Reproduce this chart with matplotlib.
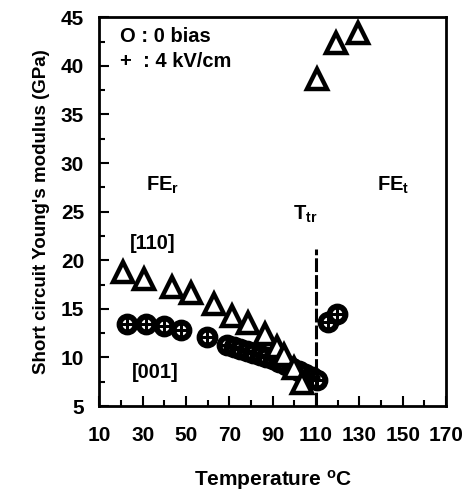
import matplotlib
matplotlib.use("Agg")
import matplotlib.pyplot as plt
from matplotlib.ticker import MultipleLocator

plt.rcParams["font.family"] = ["Liberation Sans", "DejaVu Sans"]
plt.rcParams["font.weight"] = "bold"
plt.rcParams["mathtext.fontset"] = "custom"
plt.rcParams["mathtext.rm"] = "Liberation Sans:bold"
plt.rcParams["mathtext.bf"] = "Liberation Sans:bold"
plt.rcParams["mathtext.it"] = "Liberation Sans:bold"

# [110] direction, triangles
tri_temp = [21.1, 30.6, 43.4, 52.2, 62.9, 71.3, 78.7, 86.4, 92.2, 95.4, 99.7, 103.4,
            110.3, 119.2, 129.5]
tri_mod = [18.75, 18.1, 17.3, 16.6, 15.5, 14.3, 13.5, 12.4, 11.1, 10.3, 8.95, 7.35,
           38.6, 42.4, 43.4]

# [001] direction, circles (0 bias) overlaid with + (4 kV/cm)
circ_temp = [22.6, 31.5, 39.8, 47.5, 59.5, 68.8, 72.0, 75.0, 78.0, 81.0, 84.0, 87.0,
             90.0, 93.0, 96.0, 99.0, 102.0, 105.0, 108.0, 110.5, 115.6, 119.5]
circ_mod = [13.4, 13.4, 13.2, 12.8, 12.1, 11.3, 11.1, 10.9, 10.7, 10.5, 10.3, 10.0,
            9.8, 9.5, 9.2, 8.9, 8.6, 8.3, 8.0, 7.7, 13.7, 14.5]

x_ticks = [10, 30, 50, 70, 90, 110, 130, 150, 170]

t_tr = 110
t_tr_top = 21.2

fig = plt.figure(figsize=(4.69, 4.94), dpi=100)
ax = fig.add_axes([0.212, 0.178, 0.739, 0.787])

ax.plot(circ_temp, circ_mod, linestyle="none", marker="o", ms=11.5, mew=4.2,
        mfc="white", mec="black")
ax.plot(circ_temp, circ_mod, linestyle="none", marker="+", ms=11.5, mew=2.2,
        color="black")
ax.plot(tri_temp, tri_mod, linestyle="none", marker="^", ms=14, mew=3.2,
        mfc="white", mec="black")

line, = ax.plot([t_tr, t_tr], [5, t_tr_top], color="black", lw=2.2)
line.set_dashes([4.5, 1])

txt = dict(fontsize=14.5, fontweight="bold", va="center")
ax.text(19.6, 43.0, "O : 0 bias", **txt)
ax.text(19.6, 40.4, "+  : 4 kV/cm", **txt)
ax.text(31.6, 27.7, r"FE$_{\mathbf{r}}$", **txt)
ax.text(138.1, 27.7, r"FE$_{\mathbf{t}}$", **txt)
ax.text(99.3, 24.7, r"T$_{\mathbf{tr}}$", **txt)
ax.text(24.0, 21.7, "[110]", **txt)
ax.text(25.0, 8.5, "[001]", **txt)

ax.set_xlim(10, 170)
ax.set_ylim(5, 45)
ax.set_xticks(x_ticks)
ax.xaxis.set_minor_locator(MultipleLocator(10))
ax.yaxis.set_major_locator(MultipleLocator(5))
ax.yaxis.set_minor_locator(MultipleLocator(2.5))
ax.tick_params(which="both", direction="in", top=False, right=False, width=1.5)
ax.tick_params(which="major", length=7, labelsize=15)
ax.tick_params(axis="x", which="major", pad=14)
ax.tick_params(axis="y", which="major", pad=11)
ax.tick_params(which="minor", length=4)
for spine in ax.spines.values():
    spine.set_linewidth(2)

ax.set_xlabel(r"Temperature $^{\mathbf{o}}$C", fontsize=15, fontweight="bold",
              labelpad=17)
ax.set_ylabel("Short circuit Young's modulus (GPa)", fontsize=13.5, fontweight="bold",
              labelpad=8)

fig.savefig("out.png", dpi=100)
